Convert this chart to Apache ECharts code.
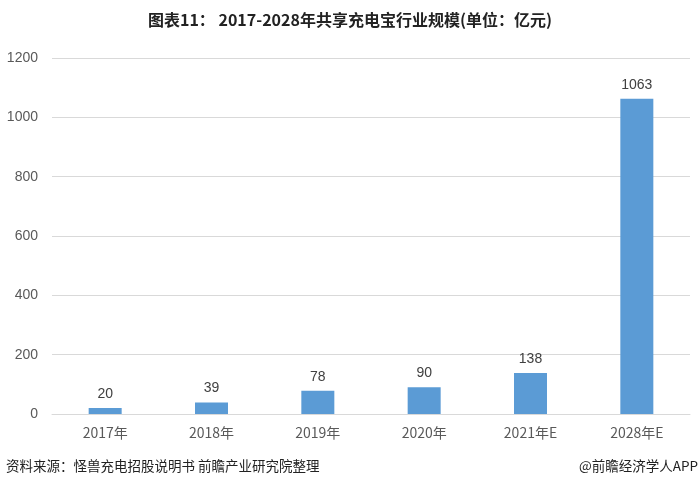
<!DOCTYPE html>
<html><head><meta charset="utf-8">
<script src="https://cdn.jsdelivr.net/npm/echarts@6/dist/echarts.min.js"></script>
<style>html,body{margin:0;padding:0;background:#fff}#c{width:700px;height:489px}</style>
</head><body><div id="c"></div>
<script>
const categories = ['2017年','2018年','2019年','2020年','2021年E','2028年E'];
const values = [20, 39, 78, 90, 138, 1063];
const titleText = '图表11： 2017-2028年共享充电宝行业规模(单位：亿元)';
const sourceText = '资料来源：怪兽充电招股说明书 前瞻产业研究院整理';
const brandText = '@前瞻经济学人APP';

const chart = echarts.init(document.getElementById('c'));
chart.setOption({
  animation: false,
  title: {
    text: titleText, left: 'center', top: 7,
    textStyle: {fontFamily: 'Noto Sans CJK SC', fontSize: 16, fontWeight: 'bold', color: '#222'}
  },
  graphic: [
    {type: 'text', left: 6, top: 459, style: {text: sourceText, font: '13.5px "Noto Sans CJK SC"', fill: '#222'}},
    {type: 'text', right: 2, top: 459, style: {text: brandText, font: '13.5px "Noto Sans CJK SC"', fill: '#222'}}
  ],
  grid: {left: 52, right: 10, top: 58, bottom: 75, containLabel: false},
  xAxis: {
    type: 'category', data: categories,
    axisLine: {lineStyle: {color: '#d9d9d9'}},
    axisTick: {show: false},
    axisLabel: {color: '#595959', fontSize: 14, fontFamily: 'Noto Sans CJK SC', margin: 12}
  },
  yAxis: {
    type: 'value', min: 0, max: 1200, interval: 200,
    axisLine: {show: false}, axisTick: {show: false},
    splitLine: {lineStyle: {color: '#d9d9d9'}},
    axisLabel: {color: '#595959', fontSize: 14, fontFamily: 'Liberation Sans', margin: 14, formatter: v => String(v)}
  },
  series: [{
    type: 'bar', data: values, barWidth: 33,
    itemStyle: {color: '#5b9bd5'},
    label: {show: true, position: 'top', color: '#404040', fontSize: 14, fontFamily: 'Liberation Sans', distance: 7}
  }]
});
</script></body></html>
